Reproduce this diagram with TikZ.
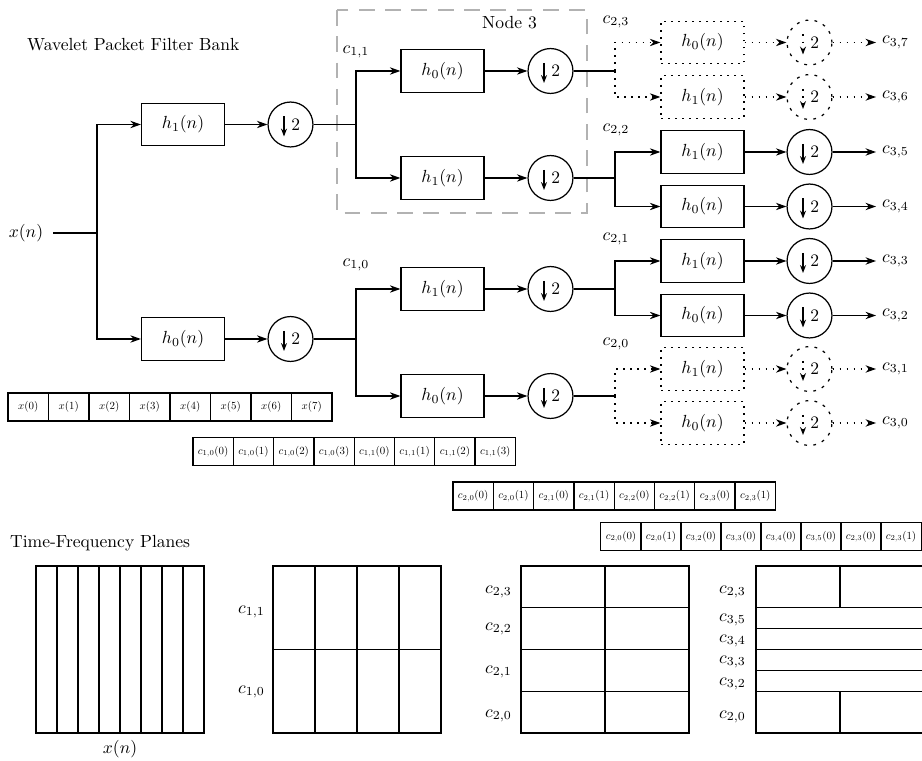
\documentclass[tikz,border=0pt]{standalone}
\usepackage{graphicx}
\usetikzlibrary{arrows.meta}
\newcommand\dtwo{\hspace*{6pt}2}
\newcommand\cellt[1]{\scalebox{0.62}{$#1$}}
\newcommand\dnarr[2][]{\draw[line width=0.7pt,-{Stealth[length=4.5pt,width=3.4pt]},#1] ([shift={(-6.5,-8)}]#2.center) -- ([shift={(-6.5,12)}]#2.center);}
\tikzset{
  fbox/.style={draw, line width=0.7pt, minimum width=47.3pt, minimum height=24.2pt, inner sep=0pt},
  dcirc/.style={draw, circle, line width=0.7pt, minimum size=25.6pt, inner sep=0pt},
  conn/.style={line width=0.7pt},
  arr/.style={line width=0.7pt, -{Stealth[length=6pt,width=4.2pt]}},
  dots/.style={dash pattern=on 1pt off 3pt},
  cdots/.style={dash pattern=on 1.6pt off 3.6pt},
  node3/.style={draw=black!30, line width=0.6pt, dash pattern=on 9pt off 6pt},
  cell/.style={draw, line width=0.7pt, minimum width=23pt, minimum height=16pt, inner sep=0pt},
  pl/.style={line width=0.7pt}
}
\begin{document}
\begin{tikzpicture}[x=0.57pt,y=-0.57pt]
\useasboundingbox (0,0) rectangle (922,761);

% titles
\node[anchor=base west] (t1) at (21,51) {Wavelet Packet Filter Bank};
\node[anchor=base west] (t2) at (4,547) {Time-Frequency Planes};

% Node 3 frame
\draw[node3] (337,10) rectangle (587,213);
\node[anchor=base west] (n3) at (476,29) {Node 3};

% root
\node[outer sep=2.4pt] (xn) at (26,233) {$x(n)$};
\coordinate (b0) at (97,233);

% level 1
\node[fbox] (f1a) at (183,124.5) {$h_1(n)$};
\node[fbox] (f1b) at (183,339) {$h_0(n)$};
\node[dcirc] (d1a) at (290.5,124.5) {\dtwo};
\node[dcirc] (d1b) at (290.5,339) {\dtwo};
\coordinate (b1a) at (356,124.5);
\coordinate (b1b) at (356,339);
\draw[conn] (xn) -- (b0);
\draw[arr] (b0) |- (f1a);
\draw[arr] (b0) |- (f1b);
\draw[arr] (f1a) -- (d1a);
\draw[arr] (f1b) -- (d1b);
\draw[conn] (d1a) -- (b1a);
\draw[conn] (d1b) -- (b1b);
\dnarr{d1a}
\dnarr{d1b}
\node (c11) at (356,52) {$c_{1,1}$};
\node (c10) at (356,265) {$c_{1,0}$};

% level 2
\node[fbox] (f2a) at (442.5,71) {$h_0(n)$};
\node[fbox] (f2b) at (442.5,178) {$h_1(n)$};
\node[fbox] (f2c) at (442.5,289) {$h_1(n)$};
\node[fbox] (f2d) at (442.5,396) {$h_0(n)$};
\node[dcirc] (d2a) at (550.5,71) {\dtwo};
\node[dcirc] (d2b) at (550.5,178) {\dtwo};
\node[dcirc] (d2c) at (550.5,289) {\dtwo};
\node[dcirc] (d2d) at (550.5,396) {\dtwo};
\coordinate (b2a) at (615,71);
\coordinate (b2b) at (615,178);
\coordinate (b2c) at (615,289);
\coordinate (b2d) at (615,396);
\draw[arr] (b1a) |- (f2a);
\draw[arr] (b1a) |- (f2b);
\draw[arr] (b1b) |- (f2c);
\draw[arr] (b1b) |- (f2d);
\draw[arr] (f2a) -- (d2a);
\draw[arr] (f2b) -- (d2b);
\draw[arr] (f2c) -- (d2c);
\draw[arr] (f2d) -- (d2d);
\draw[conn] (d2a) -- (b2a);
\draw[conn] (d2b) -- (b2b);
\draw[conn] (d2c) -- (b2c);
\draw[conn] (d2d) -- (b2d);
\dnarr{d2a}
\dnarr{d2b}
\dnarr{d2c}
\dnarr{d2d}
\node (c23) at (616,22) {$c_{2,3}$};
\node (c22) at (616,130) {$c_{2,2}$};
\node (c21) at (616,239) {$c_{2,1}$};
\node (c20) at (616,344) {$c_{2,0}$};

% level 3
\node[fbox,dots] (f3a) at (702.5,42.5) {$h_0(n)$};
\node[fbox,dots] (f3b) at (702.5,97) {$h_1(n)$};
\node[fbox] (f3c) at (702.5,152) {$h_1(n)$};
\node[fbox] (f3d) at (702.5,206.5) {$h_0(n)$};
\node[fbox] (f3e) at (702.5,261) {$h_1(n)$};
\node[fbox] (f3f) at (702.5,315.5) {$h_0(n)$};
\node[fbox,dots] (f3g) at (702.5,369) {$h_1(n)$};
\node[fbox,dots] (f3h) at (702.5,423) {$h_0(n)$};
\node[dcirc,cdots] (d3a) at (809.5,42.5) {\dtwo};
\node[dcirc,cdots] (d3b) at (809.5,97) {\dtwo};
\node[dcirc] (d3c) at (809.5,152) {\dtwo};
\node[dcirc] (d3d) at (809.5,206.5) {\dtwo};
\node[dcirc] (d3e) at (809.5,261) {\dtwo};
\node[dcirc] (d3f) at (809.5,315.5) {\dtwo};
\node[dcirc,cdots] (d3g) at (809.5,369) {\dtwo};
\node[dcirc,cdots] (d3h) at (809.5,423) {\dtwo};
\node[anchor=west] (o3a) at (876,42.5) {$c_{3,7}$};
\node[anchor=west] (o3b) at (876,97) {$c_{3,6}$};
\node[anchor=west] (o3c) at (876,152) {$c_{3,5}$};
\node[anchor=west] (o3d) at (876,206.5) {$c_{3,4}$};
\node[anchor=west] (o3e) at (876,261) {$c_{3,3}$};
\node[anchor=west] (o3f) at (876,315.5) {$c_{3,2}$};
\node[anchor=west] (o3g) at (876,369) {$c_{3,1}$};
\node[anchor=west] (o3h) at (876,423) {$c_{3,0}$};
\draw[arr,dots] (b2a) |- (f3a);
\draw[arr,dots] (b2a) |- (f3b);
\draw[arr] (b2b) |- (f3c);
\draw[arr] (b2b) |- (f3d);
\draw[arr] (b2c) |- (f3e);
\draw[arr] (b2c) |- (f3f);
\draw[arr,dots] (b2d) |- (f3g);
\draw[arr,dots] (b2d) |- (f3h);
\draw[arr,dots] (f3a) -- (d3a);
\draw[arr,dots] (f3b) -- (d3b);
\draw[arr] (f3c) -- (d3c);
\draw[arr] (f3d) -- (d3d);
\draw[arr] (f3e) -- (d3e);
\draw[arr] (f3f) -- (d3f);
\draw[arr,dots] (f3g) -- (d3g);
\draw[arr,dots] (f3h) -- (d3h);
\draw[arr,dots] (d3a) -- (o3a);
\draw[arr,dots] (d3b) -- (o3b);
\draw[arr] (d3c) -- (o3c);
\draw[arr] (d3d) -- (o3d);
\draw[arr] (d3e) -- (o3e);
\draw[arr] (d3f) -- (o3f);
\draw[arr,dots] (d3g) -- (o3g);
\draw[arr,dots] (d3h) -- (o3h);
\dnarr[dots]{d3a}
\dnarr[dots]{d3b}
\dnarr{d3c}
\dnarr{d3d}
\dnarr{d3e}
\dnarr{d3f}
\dnarr[dots]{d3g}
\dnarr[dots]{d3h}

% arrays
\foreach \i in {0,...,7}
  \node[cell] (xa\i) at ({28.25+40.5*\i},407) {\cellt{x(\i)}};
\foreach \i in {0,...,3}
  \node[cell] (ca\i) at ({213.15+40.3*\i},451.5) {\cellt{c_{1,0}(\i)}};
\foreach \i/\j in {4/0,5/1,6/2,7/3}
  \node[cell] (ca\i) at ({213.15+40.3*\i},451.5) {\cellt{c_{1,1}(\j)}};
\foreach \i/\a/\b in {0/0/0,1/0/1,2/1/0,3/1/1,4/2/0,5/2/1,6/3/0,7/3/1}
  \node[cell] (cb\i) at ({473.15+40.3*\i},496) {\cellt{c_{2,\a}(\b)}};
\foreach \i/\a/\b/\c in {0/2/0/0,1/2/0/1,2/3/2/0,3/3/3/0,4/3/4/0,5/3/5/0,6/2/3/0,7/2/3/1}
  \node[cell] (cc\i) at ({621+40*\i},536.5) {\cellt{c_{\a,\b}(\c)}};

% time-frequency planes
\draw[pl] (36,566) rectangle (204,733);
\foreach \x in {57,78,99,120,141,162,183}
  \draw[pl] (\x,566) -- (\x,733);
\node (px) at (120,749) {$x(n)$};

\draw[pl] (273,566) rectangle (441,733);
\draw[pl] (273,649.5) -- (441,649.5);
\foreach \x in {315,357,399}
  \draw[pl] (\x,566) -- (\x,733);
\node[anchor=east] (p2a) at (271,612) {$c_{1,1}$};
\node[anchor=east] (p2b) at (271,692) {$c_{1,0}$};

\draw[pl] (521,566) rectangle (689,733);
\foreach \y in {607.75,649.5,691.25}
  \draw[pl] (521,\y) -- (689,\y);
\draw[pl] (605,566) -- (605,733);
\node[anchor=east] (p3a) at (518,592) {$c_{2,3}$};
\node[anchor=east] (p3b) at (518,629) {$c_{2,2}$};
\node[anchor=east] (p3c) at (518,672) {$c_{2,1}$};
\node[anchor=east] (p3d) at (518,716) {$c_{2,0}$};

\draw[pl] (930,566) -- (756,566) -- (756,733) -- (930,733);
\foreach \y in {607.75,628.6,649.5,670.4,691.25}
  \draw[pl] (756,\y) -- (930,\y);
\draw[pl] (840,566) -- (840,607.75);
\draw[pl] (840,691.25) -- (840,733);
\node[anchor=east] (p4a) at (752,592) {$c_{2,3}$};
\node[anchor=east] (p4b) at (752,620) {$c_{3,5}$};
\node[anchor=east] (p4c) at (752,641) {$c_{3,4}$};
\node[anchor=east] (p4d) at (752,662) {$c_{3,3}$};
\node[anchor=east] (p4e) at (752,684) {$c_{3,2}$};
\node[anchor=east] (p4f) at (752,717) {$c_{2,0}$};
\end{tikzpicture}
\end{document}
